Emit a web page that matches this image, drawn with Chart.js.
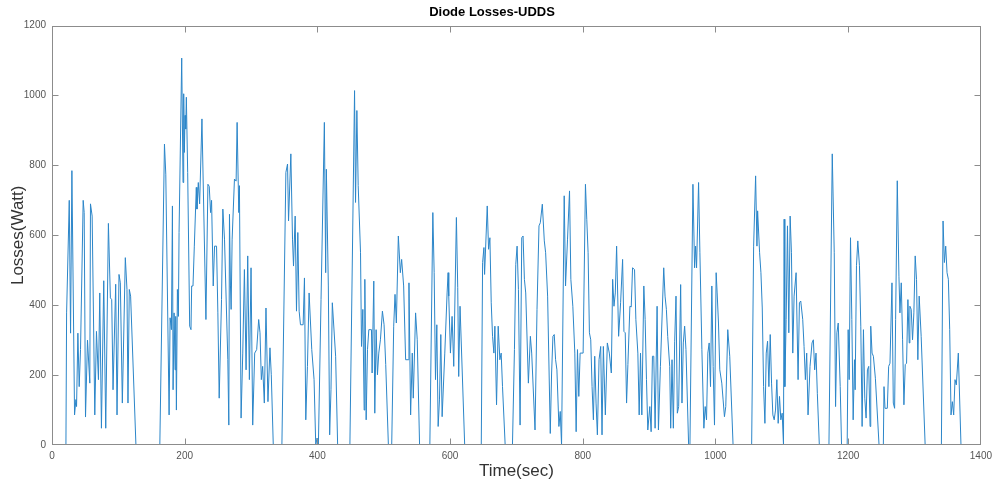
<!DOCTYPE html>
<html>
<head>
<meta charset="utf-8">
<title>Diode Losses-UDDS</title>
<script src="https://cdn.jsdelivr.net/npm/chart.js@4.4.0/dist/chart.umd.min.js"></script>
<style>
  html, body { margin: 0; padding: 0; background: #fff; }
  canvas { display: block; }
</style>
</head>
<body>
<canvas id="lossChart" width="997" height="486"></canvas>
<script>
// Datos (tiempo en s, perdidas en W)
const timeSec = [
  0, 21, 22, 26, 28, 30, 34, 36, 37, 39, 41, 43, 47, 48.5, 50.5, 53.5, 57, 58, 60.5, 64.5,
  67, 70, 72, 74.5, 78, 81, 85, 88, 90, 92, 96, 98, 101, 103, 106, 110.5, 113, 114.5, 116.5, 118.5,
  126.5, 162.5, 169.5, 171.5, 176.5, 178, 180, 181.5, 182.5, 184, 185.5, 186.5, 187.5, 189, 190.5, 191.5, 195.5, 197.5, 198.5, 199.5,
  200.5, 201.5, 202.5, 204.5, 207.5, 209.5, 210.5, 212.5, 214.5, 217.5, 218.5, 220.5, 222.5, 226, 232, 235, 237, 239, 240.5, 243,
  245, 248, 250, 252, 255.5, 257.5, 260, 265, 266.5, 267.5, 269, 270, 271.5, 275, 277.5, 279, 281.5, 282.5, 285, 287.5,
  290, 292.5, 295, 297.5, 300, 302.5, 305.5, 308.5, 311.5, 313.5, 315.5, 317.5, 320, 322.5, 325.5, 328.5, 330.5, 333.5, 346.5, 352.5,
  355, 356.5, 360, 362.5, 364, 366.5, 368.5, 370.5, 372.5, 374.5, 378.5, 380.5, 382.5, 385, 387.5, 391.5, 395, 397.5, 399.5, 401.5,
  405.5, 410.5, 412.5, 413.5, 416.5, 418.5, 420.5, 422.5, 427.5, 430.5, 449, 456, 457.5, 459.5, 461.5, 465, 466.5, 468.5, 470.5, 471.5,
  473.5, 475.5, 477.5, 481.5, 482.5, 485, 486.5, 488.5, 490.5, 492.5, 495, 498, 500.5, 503, 507, 512, 515, 517, 519, 522,
  525, 527, 530, 533, 537, 538, 540.5, 543, 544.5, 548, 550.5, 554, 569.5, 574, 576, 578, 580, 582, 584, 586,
  588, 592, 595.5, 597, 598, 600.5, 603, 605.5, 609.5, 611.5, 613, 615, 622, 647, 649, 651, 652, 656, 658, 660,
  662, 664, 666, 667.5, 670, 672.5, 675, 677, 679, 683, 694, 697, 699, 701, 703, 705.5, 708, 710, 712, 714,
  718, 721, 723, 728, 731, 734, 736, 739, 742, 744, 747, 751, 753, 755, 757, 759, 761, 764, 766, 768,
  772, 774, 777, 780, 782, 785, 788, 790, 792, 794, 796, 800.5, 804, 806, 808, 810, 812, 814, 816, 818,
  820, 822, 824.5, 827, 829, 831, 834, 837, 840, 843, 845, 847, 849, 851, 854, 857, 860, 862, 864, 866,
  868, 871, 873, 875, 878, 880, 883, 885, 887, 889, 892, 894, 896, 898, 901, 903, 905, 907, 909, 912,
  914, 917, 922, 924, 926, 928, 931, 932.5, 934.5, 936.5, 938.5, 940.5, 942.5, 944.5, 947.5, 949.5, 951.5, 953.5, 955.5, 959.5,
  961.5, 966, 968.5, 970, 971.5, 974.5, 976.5, 979.5, 982.5, 984.5, 986.5, 988.5, 990.5, 992.5, 994.5, 996.5, 998.5, 1001, 1002.5, 1004.5,
  1006.5, 1009.5, 1011.5, 1013.5, 1015.5, 1018.5, 1021.5, 1026.5, 1054.5, 1057.5, 1060.5, 1062.5, 1063.5, 1066.5, 1068.5, 1070.5, 1072.5, 1074.5, 1076.5, 1078.5,
  1080.5, 1082.5, 1084.5, 1086.5, 1088.5, 1090.5, 1092.5, 1094.5, 1096.5, 1098.5, 1100.5, 1102.5, 1103.5, 1104.5, 1106.5, 1108.5, 1110.5, 1112.5, 1114.5, 1116.5,
  1118.5, 1121.5, 1124.5, 1126.5, 1128.5, 1131.5, 1133.5, 1135.5, 1137.5, 1139.5, 1142.5, 1145.5, 1147.5, 1149.5, 1151.5, 1153.5, 1156.5, 1171, 1176, 1179,
  1181, 1183, 1185, 1188, 1190, 1198.5, 1200, 1201.5, 1203.5, 1205.5, 1207.5, 1209.5, 1210.5, 1212.5, 1214.5, 1217, 1219, 1221, 1223, 1225,
  1227, 1229, 1231, 1233, 1234, 1236, 1238, 1241, 1246.5, 1253, 1254, 1255.5, 1259, 1261, 1263, 1266, 1268, 1270, 1271.5, 1274,
  1276.5, 1278, 1280, 1282, 1284, 1286, 1288, 1290, 1292, 1293, 1295, 1297, 1299, 1301, 1303, 1305, 1307, 1310, 1316, 1340.5,
  1343, 1345, 1347, 1349, 1351, 1353, 1355, 1357, 1359, 1361, 1363, 1366, 1370
];

const lossWatt = [
  0, 0, 378, 700, 320, 785, 86, 130, 110, 320, 167, 273, 700, 665, 80, 300, 177, 690, 655, 86,
  325, 187, 435, 48, 470, 48, 634, 421, 416, 158, 460, 86, 488, 464, 120, 536, 445, 120, 445, 426,
  0, 0, 861, 775, 86, 364, 330, 684, 158, 378, 215, 368, 100, 445, 368, 608, 1107, 751, 1005, 837,
  943, 904, 995, 780, 340, 330, 455, 455, 569, 737, 675, 751, 690, 933, 359, 746, 740, 665, 700, 455,
  569, 569, 378, 134, 416, 675, 589, 244, 57, 660, 455, 388, 589, 761, 755, 923, 665, 742, 77, 263,
  502, 215, 541, 187, 507, 57, 263, 273, 359, 321, 187, 225, 120, 392, 124, 278, 201, 0, 0, 780,
  804, 641, 833, 589, 512, 655, 383, 608, 383, 344, 344, 478, 72, 225, 435, 273, 187, 0, 20, 0,
  416, 923, 493, 789, 455, 29, 158, 407, 254, 0, 0, 1014, 694, 957, 742, 550, 282, 388, 100, 474,
  72, 273, 330, 330, 206, 469, 91, 330, 201, 263, 301, 383, 344, 230, 0, 0, 340, 431, 349, 598,
  493, 531, 455, 244, 244, 464, 86, 263, 134, 378, 301, 0, 0, 665, 493, 187, 344, 53, 129, 316,
  81, 263, 435, 493, 426, 263, 368, 225, 651, 450, 196, 397, 0, 0, 522, 565, 488, 684, 560, 593,
  407, 311, 263, 340, 115, 340, 244, 263, 167, 0, 0, 273, 517, 569, 445, 57, 593, 598, 474, 435,
  177, 311, 263, 43, 388, 627, 636, 689, 584, 550, 426, 33, 206, 311, 316, 244, 215, 53, 96, 0,
  713, 455, 589, 727, 474, 397, 263, 38, 273, 139, 263, 263, 746, 646, 550, 321, 301, 167, 72, 254,
  120, 29, 244, 282, 29, 282, 86, 292, 263, 206, 474, 397, 435, 569, 311, 407, 531, 325, 321, 120,
  230, 397, 395, 507, 502, 359, 263, 86, 263, 86, 455, 359, 187, 43, 110, 38, 254, 254, 48, 397,
  43, 225, 507, 426, 388, 311, 225, 48, 244, 48, 297, 426, 91, 110, 459, 120, 292, 340, 273, 0,
  0, 746, 507, 569, 507, 751, 550, 273, 48, 110, 72, 263, 292, 167, 455, 225, 57, 493, 435, 349,
  215, 177, 129, 81, 110, 330, 254, 0, 0, 569, 770, 569, 670, 550, 493, 392, 167, 62, 263, 297,
  167, 316, 177, 86, 72, 100, 187, 62, 139, 72, 91, 0, 646, 167, 359, 627, 321, 655, 550, 263,
  426, 493, 187, 407, 412, 359, 282, 187, 263, 86, 225, 292, 301, 215, 263, 148, 0, 0, 833, 550,
  110, 321, 349, 167, 0, 0, 330, 187, 593, 359, 72, 244, 158, 513, 584, 513, 340, 53, 330, 134,
  77, 215, 225, 53, 340, 263, 254, 191, 0, 0, 167, 105, 105, 225, 234, 464, 120, 105, 359, 756,
  483, 378, 464, 301, 115, 230, 234, 416, 292, 397, 388, 301, 378, 541, 474, 244, 426, 311, 0, 0,
  641, 522, 569, 493, 474, 330, 86, 124, 86, 187, 172, 263, 0
];

const xTicks = [0, 200, 400, 600, 800, 1000, 1200, 1400];
const yTicks = [0, 200, 400, 600, 800, 1000, 1200];

const baseFont = "'Liberation Sans', Arial, sans-serif";

// Marco y marcas hacia dentro, estilo MATLAB
const boxTicks = {
  id: 'boxTicks',
  afterDraw(chart) {
    const { ctx, chartArea: a, scales } = chart;
    const L = Math.round(a.left) + 0.5, R = Math.round(a.right) - 0.5;
    const T = Math.round(a.top) + 0.5, B = Math.round(a.bottom) - 0.5;
    ctx.save();
    ctx.strokeStyle = '#8c8c8c';
    ctx.lineWidth = 1;
    ctx.strokeRect(L, T, R - L, B - T);
    ctx.beginPath();
    xTicks.forEach(v => {
      const x = Math.min(R, Math.max(L, Math.round(scales.x.getPixelForValue(v)) + 0.5));
      ctx.moveTo(x, B); ctx.lineTo(x, B - 6);
      ctx.moveTo(x, T); ctx.lineTo(x, T + 6);
    });
    yTicks.forEach(v => {
      const y = Math.min(B, Math.max(T, Math.round(scales.y.getPixelForValue(v)) + 0.5));
      ctx.moveTo(L, y); ctx.lineTo(L + 6, y);
      ctx.moveTo(R, y); ctx.lineTo(R - 6, y);
    });
    ctx.stroke();
    ctx.restore();
  }
};

const points = timeSec.map((t, i) => ({ x: t, y: lossWatt[i] }));

new Chart(document.getElementById('lossChart'), {
  type: 'line',
  data: {
    datasets: [{
      data: points,
      borderColor: '#2c86c9',
      borderWidth: 1,
      pointRadius: 0,
      tension: 0,
      fill: false
    }]
  },
  options: {
    responsive: false,
    animation: false,
    devicePixelRatio: 1,
    layout: { padding: { left: 0, right: 13, top: 0, bottom: 0 } },
    plugins: {
      legend: { display: false },
      tooltip: { enabled: false },
      title: {
        display: true,
        text: 'Diode Losses-UDDS',
        color: '#000',
        font: { family: baseFont, size: 13, weight: 'bold' },
        padding: { top: 5, bottom: 5 }
      }
    },
    scales: {
      x: {
        type: 'linear',
        min: 0,
        max: 1400,
        afterBuildTicks: s => { s.ticks = xTicks.map(v => ({ value: v })); },
        afterFit: s => { s.height = 41; },
        grid: { display: false, drawTicks: false },
        border: { display: false },
        ticks: { color: '#555', font: { family: baseFont, size: 10 }, padding: 5, maxRotation: 0, callback: v => String(v) },
        title: { display: true, text: 'Time(sec)', color: '#333', font: { family: baseFont, size: 17 }, padding: { top: 0, bottom: 4 } }
      },
      y: {
        min: 0,
        max: 1200,
        afterBuildTicks: s => { s.ticks = yTicks.map(v => ({ value: v })); },
        afterFit: s => { s.width = 52; },
        grid: { display: false, drawTicks: false },
        border: { display: false },
        ticks: { color: '#555', font: { family: baseFont, size: 10 }, padding: 6, callback: v => String(v) },
        title: { display: true, text: 'Losses(Watt)', color: '#333', font: { family: baseFont, size: 17 }, padding: { top: 8, bottom: 0 } }
      }
    }
  },
  plugins: [boxTicks]
});
</script>
</body>
</html>
